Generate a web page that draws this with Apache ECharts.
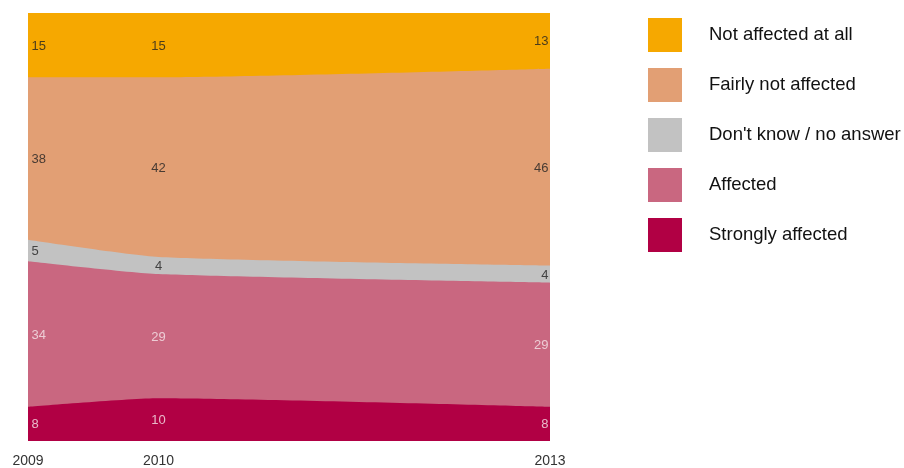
<!DOCTYPE html>
<html>
<head>
    <meta charset="utf-8">
    <title>Affected</title>
    <style>
        html, body { margin: 0; padding: 0; background: #fff; }
        #container { width: 904px; height: 468px; }
    </style>
</head>
<body>
<div id="container"></div>
<script src="https://cdn.jsdelivr.net/npm/echarts@6/dist/echarts.min.js"></script>
<script type="text/javascript">
    var years = [2009, 2010, 2013];
    var yearLabels = ['2009', '2010', '2013'];

    // bottom of the stack first
    var seriesNames = ['Strongly affected', 'Affected', "Don't know / no answer", 'Fairly not affected', 'Not affected at all'];
    var strongly = [8, 10, 8];
    var affected = [34, 29, 29];
    var dontKnow = [5, 4, 4];
    var fairlyNot = [38, 42, 46];
    var notAtAll = [15, 15, 13];

    var values = [strongly, affected, dontKnow, fairlyNot, notAtAll];
    var colors = ['#b10044', '#c96780', '#c2c2c2', '#e29f74', '#f6a800'];
    var labelColors = ['#f6e6ea', '#f6e6ea', '#222', '#222', '#222'];

    var myChart = echarts.init(document.getElementById('container'));

    // running totals: bottom and top of each band
    var bottoms = [], tops = [];
    var run = years.map(function () { return 0; });
    values.forEach(function (vals, i) {
        bottoms.push(run.slice());
        run = run.map(function (r, j) { return r + vals[j]; });
        tops.push(run.slice());
    });

    var series = [];
    // areas filled down to the axis, top band first so lower bands paint over it
    for (var i = values.length - 1; i >= 0; i--) {
        series.push({
            name: seriesNames[i],
            type: 'line',
            smooth: 0.2,
            symbol: 'none',
            silent: true,
            lineStyle: {width: 0},
            areaStyle: {color: colors[i], opacity: 1, origin: 'start'},
            itemStyle: {color: colors[i]},
            data: years.map(function (y, j) { return [y, tops[i][j]]; })
        });
    }

    // value labels in the middle of each band
    values.forEach(function (vals, i) {
        series.push({
            type: 'scatter',
            symbolSize: 1,
            silent: true,
            itemStyle: {color: 'rgba(0,0,0,0)'},
            z: 5,
            data: years.map(function (y, j) {
                var pos = j === 0 ? 'right' : (j === years.length - 1 ? 'left' : 'inside');
                return {
                    value: [y, (bottoms[i][j] + tops[i][j]) / 2, vals[j]],
                    label: {position: pos, distance: j === 0 ? 3 : 1}
                };
            }),
            label: {
                show: true,
                color: labelColors[i],
                fontFamily: 'Liberation Sans, Arial, sans-serif',
                fontSize: 13,
                offset: [0, 1],
                formatter: function (p) { return p.value[2]; }
            }
        });
    });

    var option = {
        animation: false,
        grid: {left: 28, right: 354, top: 13, bottom: 26},
        legend: {
            orient: 'vertical',
            left: 643,
            top: 13,
            itemWidth: 34,
            itemHeight: 34,
            itemGap: 16,
            icon: 'rect',
            data: seriesNames.slice().reverse(),
            textStyle: {
                fontFamily: 'Liberation Sans, Arial, sans-serif',
                fontSize: 18.5,
                color: '#111',
                padding: [0, 0, 0, 22]
            }
        },
        xAxis: {
            type: 'value',
            min: 2009,
            max: 2013,
            interval: 1,
            axisLine: {show: false},
            axisTick: {show: false},
            splitLine: {show: false},
            axisLabel: {
                margin: 13,
                fontFamily: 'Liberation Sans, Arial, sans-serif',
                fontSize: 14,
                color: '#333',
                formatter: function (v) {
                    var k = years.indexOf(v);
                    return k >= 0 ? yearLabels[k] : '';
                }
            }
        },
        yAxis: {
            type: 'value',
            min: 0,
            max: 100,
            show: false
        },
        series: series
    };

    myChart.setOption(option);
</script>
</body>
</html>
